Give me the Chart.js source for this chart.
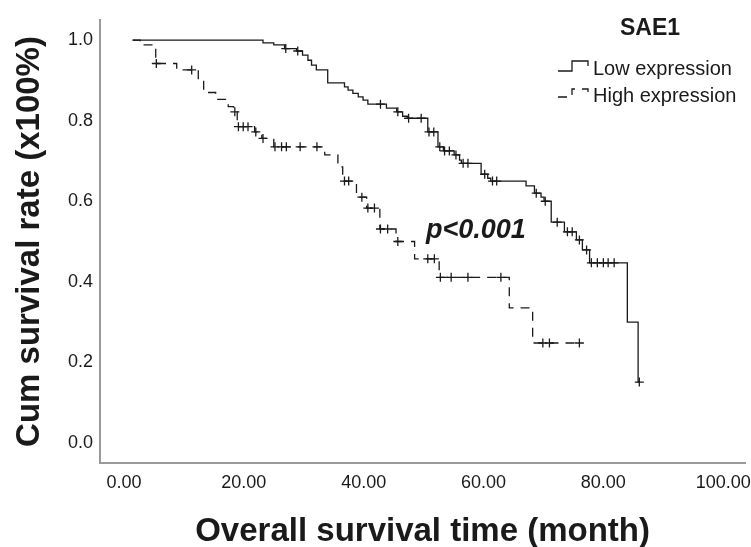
<!DOCTYPE html>
<html>
<head>
<meta charset="utf-8">
<script src="https://cdn.jsdelivr.net/npm/chart.js@4.4.1/dist/chart.umd.min.js"></script>
<style>
  html, body { margin: 0; padding: 0; background: #fff; }
  #wrap { width: 751px; height: 547px; position: relative; }
</style>
</head>
<body>
<div id="wrap"><canvas id="kmChart"></canvas></div>
<script>
// Low expression group: time (months), cumulative survival, censored flag
const lowTime = [1.5, 23.2, 25.0, 26.8, 27.0, 28.8, 29.0, 29.8, 30.7, 31.3, 32.1, 34.0, 36.8, 37.4, 38.2, 39.1, 39.9, 40.7, 42.8, 43.8, 45.5, 45.7, 46.5, 47.3, 47.5, 49.6, 50.7, 50.9, 51.7, 52.4, 52.7, 53.3, 53.5, 54.3, 55.1, 55.4, 56.0, 56.3, 56.6, 57.4, 59.6, 60.2, 60.7, 61.2, 61.5, 62.2, 67.1, 68.5, 68.8, 69.6, 70.1, 70.3, 71.3, 72.3, 73.5, 74.0, 74.8, 75.5, 76.0, 76.5, 77.2, 77.7, 78.0, 79.0, 80.0, 80.8, 81.8, 84.0, 85.8, 86.0];
const lowSurv = [1.000, 0.993, 0.988, 0.979, 0.979, 0.973, 0.973, 0.963, 0.950, 0.938, 0.926, 0.894, 0.884, 0.876, 0.868, 0.859, 0.851, 0.841, 0.841, 0.831, 0.822, 0.822, 0.811, 0.806, 0.806, 0.806, 0.772, 0.772, 0.772, 0.735, 0.735, 0.725, 0.725, 0.725, 0.715, 0.715, 0.702, 0.694, 0.694, 0.694, 0.667, 0.667, 0.657, 0.650, 0.650, 0.650, 0.638, 0.620, 0.620, 0.610, 0.600, 0.600, 0.548, 0.548, 0.524, 0.524, 0.524, 0.504, 0.504, 0.479, 0.479, 0.447, 0.447, 0.447, 0.447, 0.447, 0.447, 0.300, 0.151, 0.151];
const lowCens = [0, 0, 0, 0, 1, 0, 1, 0, 0, 0, 0, 0, 0, 0, 0, 0, 0, 0, 1, 0, 0, 1, 0, 0, 1, 1, 0, 1, 1, 0, 1, 0, 1, 1, 0, 1, 0, 0, 1, 1, 0, 1, 0, 0, 1, 1, 0, 0, 1, 0, 0, 1, 0, 1, 0, 1, 1, 0, 1, 0, 1, 0, 1, 1, 1, 1, 1, 0, 0, 1];

// High expression group
const highTime = [1.4, 2.7, 5.3, 5.4, 8.8, 11.3, 12.4, 13.3, 15.3, 17.4, 18.3, 18.5, 18.9, 19.1, 19.9, 20.7, 21.8, 22.0, 23.0, 23.2, 25.0, 25.2, 26.3, 27.1, 29.4, 32.2, 33.5, 35.7, 36.5, 36.8, 37.5, 38.8, 39.7, 40.5, 40.7, 41.8, 42.7, 42.8, 44.0, 45.4, 45.7, 48.5, 50.7, 51.8, 52.6, 52.8, 54.6, 57.4, 62.9, 64.3, 68.2, 69.9, 71.0, 76.0];
const highSurv = [1.000, 0.988, 0.942, 0.942, 0.926, 0.926, 0.900, 0.870, 0.853, 0.835, 0.822, 0.822, 0.785, 0.785, 0.785, 0.785, 0.772, 0.772, 0.756, 0.756, 0.735, 0.735, 0.735, 0.735, 0.735, 0.735, 0.715, 0.685, 0.650, 0.650, 0.650, 0.610, 0.610, 0.583, 0.583, 0.583, 0.531, 0.531, 0.531, 0.500, 0.500, 0.457, 0.457, 0.457, 0.411, 0.411, 0.411, 0.411, 0.411, 0.335, 0.248, 0.248, 0.248, 0.248];
const highCens = [0, 0, 0, 1, 0, 1, 0, 0, 0, 0, 0, 1, 0, 1, 1, 1, 0, 1, 0, 1, 0, 1, 1, 1, 1, 1, 0, 0, 0, 1, 1, 0, 1, 0, 1, 1, 0, 1, 1, 0, 1, 0, 1, 1, 0, 1, 1, 1, 1, 0, 0, 1, 1, 1];

const xTicks = [0, 20, 40, 60, 80, 100];
const yTicks = [0, 0.2, 0.4, 0.6, 0.8, 1.0];
const groupLabels = ['Low expression', 'High expression'];
const legendTitle = 'SAE1';
const pText = 'p<0.001';

const FONT = '"Liberation Sans", Arial, Helvetica, sans-serif';
const INK = '#1a1a1a';

function toPoints(times, surv) {
  return times.map((t, i) => ({ x: t, y: surv[i] }));
}

// legend + p value drawn on top of the plot
const extrasPlugin = {
  id: 'kmExtras',
  afterDraw(chart) {
    const ctx = chart.ctx;
    ctx.save();
    ctx.fillStyle = INK;
    ctx.strokeStyle = INK;
    ctx.textBaseline = 'middle';

    ctx.font = 'bold 23px ' + FONT;
    ctx.textAlign = 'center';
    ctx.fillText(legendTitle, 650, 29);

    ctx.textAlign = 'left';
    ctx.font = '20px ' + FONT;
    ctx.lineWidth = 1.3;
    // solid step symbol
    ctx.beginPath();
    ctx.moveTo(558, 71); ctx.lineTo(572, 71); ctx.lineTo(572, 61);
    ctx.lineTo(588, 61); ctx.lineTo(588, 66);
    ctx.stroke();
    ctx.fillText(groupLabels[0], 593, 69);
    // dashed step symbol
    ctx.setLineDash([9, 7]);
    ctx.beginPath();
    ctx.moveTo(558, 97); ctx.lineTo(572, 97); ctx.lineTo(572, 89);
    ctx.lineTo(588, 89); ctx.lineTo(588, 97);
    ctx.stroke();
    ctx.setLineDash([]);
    ctx.fillText(groupLabels[1], 593, 96);

    ctx.font = 'italic bold 27px ' + FONT;
    ctx.textBaseline = 'alphabetic';
    ctx.fillText(pText, 426, 238);
    ctx.restore();
  }
};

const ctx = document.getElementById('kmChart').getContext('2d');
const chart = new Chart(ctx, {
  type: 'line',
  data: {
    datasets: [{
      label: groupLabels[0],
      data: toPoints(lowTime, lowSurv),
      stepped: 'before',
      borderColor: INK,
      borderWidth: 1.3,
      fill: false,
      pointStyle: 'cross',
      pointRadius: lowCens.map(c => c ? 4.5 : 0),
      pointBorderColor: INK,
      pointBorderWidth: 1.3
    }, {
      label: groupLabels[1],
      data: toPoints(highTime, highSurv),
      stepped: 'before',
      borderColor: INK,
      borderWidth: 1.3,
      borderDash: [9, 7],
      fill: false,
      pointStyle: 'cross',
      pointRadius: highCens.map(c => c ? 4.5 : 0),
      pointBorderColor: INK,
      pointBorderWidth: 1.3
    }]
  },
  options: {
    responsive: true,
    maintainAspectRatio: false,
    animation: false,
    events: [],
    layout: { padding: { top: 20, right: 0, left: 0, bottom: 0 } },
    plugins: {
      legend: { display: false },
      tooltip: { enabled: false }
    },
    scales: {
      x: {
        type: 'linear',
        min: -4,
        max: 103.67,
        afterBuildTicks: (scale) => { scale.ticks = xTicks.map(v => ({ value: v })); },
        afterFit: (scale) => { scale.height = 84; scale.paddingRight = 0; scale.paddingLeft = 0; },
        grid: { display: false, drawTicks: false },
        border: { display: true, color: '#9a9a9a', width: 2 },
        ticks: {
          padding: 9,
          color: INK,
          font: { family: FONT, size: 18 },
          maxRotation: 0,
          callback: (v) => Number(v).toFixed(2)
        },
        title: {
          display: true,
          text: 'Overall survival time (month)',
          color: INK,
          font: { family: FONT, size: 33, weight: 'bold', lineHeight: 1 },
          padding: { top: 0, bottom: -1 }
        }
      },
      y: {
        min: -0.05,
        max: 1.05,
        afterBuildTicks: (scale) => { scale.ticks = yTicks.map(v => ({ value: v })); },
        afterFit: (scale) => { scale.width = 100; scale.paddingTop = 0; scale.paddingBottom = 0; },
        grid: { display: false, drawTicks: false },
        border: { display: true, color: '#9a9a9a', width: 2 },
        ticks: {
          padding: 7,
          color: INK,
          font: { family: FONT, size: 18 },
          callback: (v) => Number(v).toFixed(1)
        },
        title: {
          display: true,
          text: 'Cum survival rate (x100%)',
          color: INK,
          font: { family: FONT, size: 33, weight: 'bold', lineHeight: 1 },
          padding: { top: 13, bottom: 0 }
        }
      }
    }
  },
  plugins: [extrasPlugin]
});
</script>
</body>
</html>
